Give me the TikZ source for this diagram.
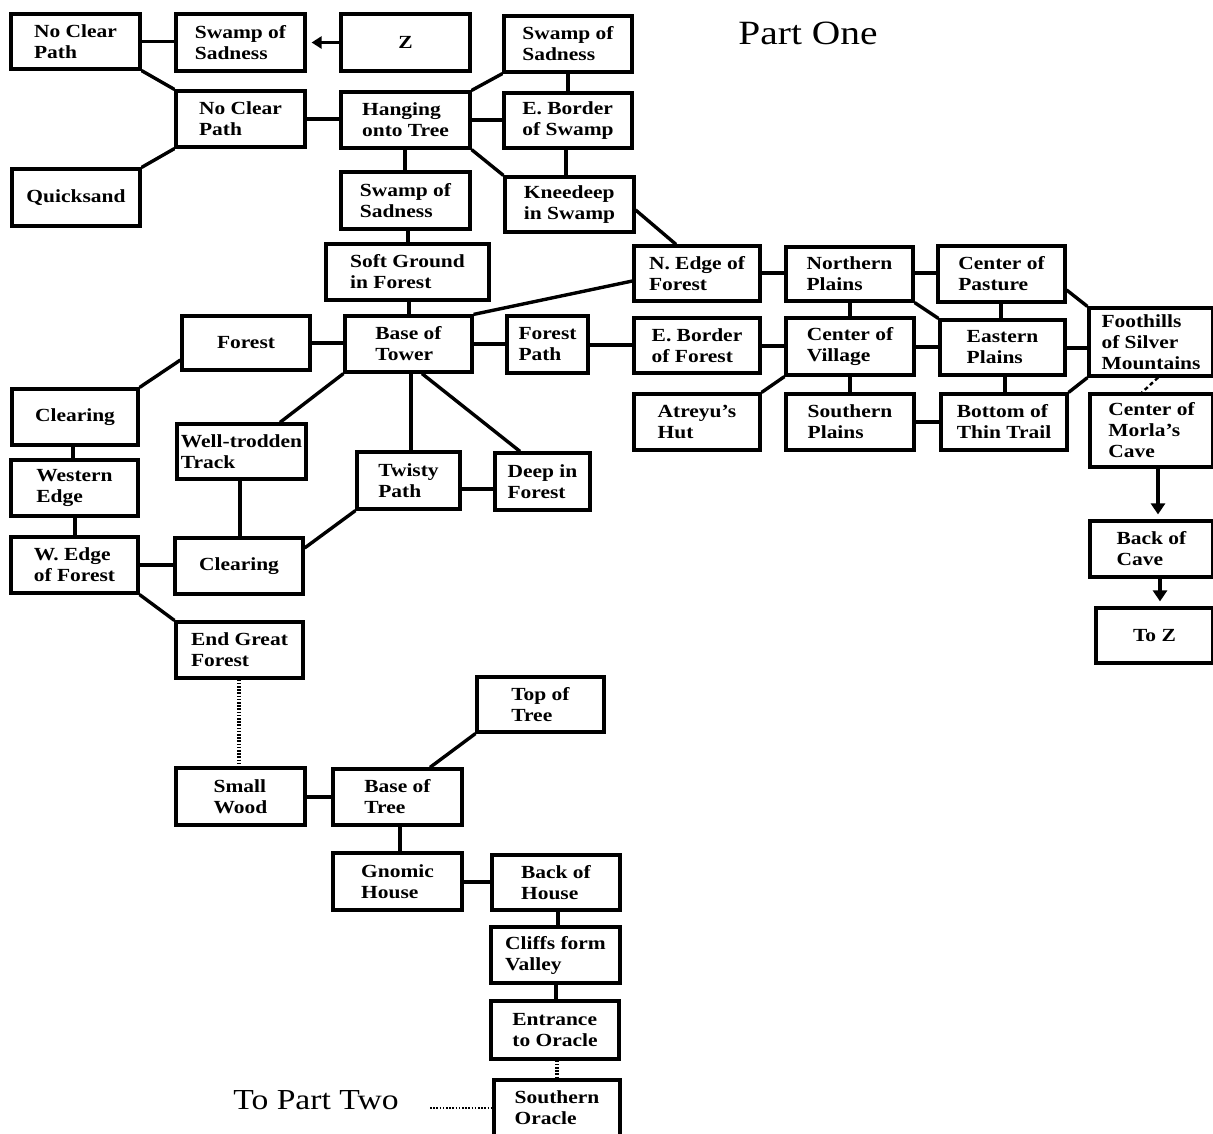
\documentclass[tikz,border=0pt]{standalone}
\usepackage{fontspec}
\setmainfont{Liberation Serif}[FakeStretch=1.16]
\usetikzlibrary{arrows.meta}
\tikzset{
  box/.style={draw, line width=3.2pt, rectangle, inner sep=0pt, align=left,
    font=\bfseries\fontsize{18.5}{21}\selectfont},
  conn/.style={line width=3.4pt},
  dotline/.style={line width=3.4pt, dash pattern=on 1.6pt off 1.6pt},
  dashline/.style={line width=2.4pt, dash pattern=on 4pt off 3pt},
  arr/.style={line width=3.4pt, -{Triangle[length=11pt,width=14pt]}, shorten >=5pt},
  title/.style={font=\fontsize{34}{40}\selectfont}
}
\newcommand\bx[6]{\node[box, minimum width={#4-#3}, minimum height={#6-#5}] (#1) at ({(#3+#4)/2},{(#5+#6)/2}) {#2};}
\begin{document}
\begin{tikzpicture}[x=1pt,y=-1pt]
\useasboundingbox (0,0) rectangle (1213,1133);
\clip (0,0) rectangle (1213,1133);
\fill[white] (0,0) rectangle (1213,1133);
% boxes
\bx{ncp1}{No Clear\\Path}{11}{140}{14}{69}
\bx{sws1}{Swamp of\\Sadness}{176}{305}{14}{71}
\bx{z}{Z}{341}{470}{14}{71}
\bx{sws2}{Swamp of\\Sadness}{504}{632}{16}{72}
\bx{ncp2}{No Clear\\Path}{176}{305}{91}{147}
\bx{hang}{Hanging\\onto Tree}{341}{470}{92}{148}
\bx{ebs}{E. Border\\of Swamp}{504}{632}{93}{148}
\bx{quick}{Quicksand}{12}{140}{169}{226}
\bx{sws3}{Swamp of\\Sadness}{341}{470}{172}{229}
\bx{knee}{Kneedeep\\in Swamp}{505}{634}{177}{232}
\bx{soft}{Soft Ground\\in Forest}{326}{489}{244}{300}
\bx{nef}{N. Edge of\\Forest}{634}{760}{246}{301}
\bx{np}{Northern\\Plains}{786}{913}{247}{301}
\bx{cp}{Center of\\Pasture}{938}{1065}{246}{302}
\bx{foot}{Foothills\\of Silver\\Mountains}{1089}{1213}{308}{376}
\bx{forest}{Forest}{182}{310}{316}{370}
\bx{bot}{Base of\\Tower}{345}{472}{316}{372}
\bx{fp}{Forest\\Path}{507}{588}{316}{373}
\bx{ebf}{E. Border\\of Forest}{634}{760}{318}{373}
\bx{cv}{Center of\\Village}{786}{914}{318}{375}
\bx{ep}{Eastern\\Plains}{940}{1065}{320}{375}
\bx{clr1}{Clearing}{12}{138}{389}{445}
\bx{ah}{Atreyu's\\Hut}{634}{760}{394}{450}
\bx{sp}{Southern\\Plains}{786}{914}{394}{450}
\bx{btt}{Bottom of\\Thin Trail}{941}{1067}{394}{450}
\bx{morla}{Center of\\Morla's\\Cave}{1090}{1213}{394}{467}
\bx{wt}{Well-trodden\\Track}{177}{306}{424}{479}
\bx{tp}{Twisty\\Path}{357}{460}{452}{509}
\bx{dif}{Deep in\\Forest}{495}{590}{453}{510}
\bx{we}{Western\\Edge}{11}{138}{460}{516}
\bx{wef}{W. Edge\\of Forest}{11}{138}{537}{593}
\bx{clr2}{Clearing}{175}{303}{538}{594}
\bx{egf}{End Great\\Forest}{176}{303}{622}{678}
\bx{tot}{Top of\\Tree}{477}{604}{677}{732}
\bx{sw}{Small\\Wood}{176}{305}{768}{825}
\bx{botr}{Base of\\Tree}{333}{462}{769}{825}
\bx{gh}{Gnomic\\House}{333}{462}{853}{910}
\bx{boh}{Back of\\House}{492}{620}{855}{910}
\bx{cfv}{Cliffs form\\Valley}{491}{620}{927}{983}
\bx{eto}{Entrance\\to Oracle}{491}{619}{1001}{1059}
\bx{so}{Southern\\Oracle}{494}{620}{1080}{1136}
\bx{boc}{Back of\\Cave}{1090}{1213}{521}{577}
\bx{toz}{To Z}{1096}{1213}{608}{663}
% titles
\node[title] (p1) at (808,33) {Part One};
\node[font=\fontsize{29}{34}\selectfont] (p2) at (316,1100) {To Part Two};
\coordinate (p2end) at (430,1108);
% connectors
\draw[conn] (ncp1.east) -- (sws1.west |- ncp1.east);
\draw[arr, -{Triangle[length=10pt,width=12pt]}] (z.west) -- (sws1.east |- z.west);
\draw[conn] (ncp1.south east) -- (ncp2.north west);
\draw[conn] (quick.north east) -- (ncp2.south west);
\draw[conn] (ncp2.east) -- (hang.west |- ncp2.east);
\draw[conn] (hang.north east) -- (sws2.south west);
\draw[conn] (568,0 |- sws2.south) -- (568,0 |- ebs.north);
\draw[conn] (hang.east) -- (ebs.west |- hang.east);
\draw[conn] (hang.south east) -- (knee.north west);
\draw[conn] (566,0 |- ebs.south) -- (566,0 |- knee.north);
\draw[conn] (405,0 |- hang.south) -- (405,0 |- sws3.north);
\draw[conn] (408,0 |- sws3.south) -- (408,0 |- soft.north);
\draw[conn] (knee.east |- 0,210) -- (676,0 |- nef.north);
\draw[conn] (409,0 |- soft.south) -- (409,0 |- bot.north);
\draw[conn] (bot.north east) -- (nef.west |- 0,281);
\draw[conn] (forest.east) -- (bot.west |- forest.east);
\draw[conn] (bot.east) -- (fp.west |- bot.east);
\draw[conn] (fp.east |- 0,345) -- (ebf.west |- 0,345);
\draw[conn] (bot.south west) -- (280,0 |- wt.north);
\draw[conn] (411,0 |- bot.south) -- (411,0 |- tp.north);
\draw[conn] (422,0 |- bot.south) -- (520,0 |- dif.north);
\draw[conn] (forest.west |- 0,360) -- (clr1.north east);
\draw[conn] (73,0 |- clr1.south) -- (73,0 |- we.north);
\draw[conn] (75,0 |- we.south) -- (75,0 |- wef.north);
\draw[conn] (wef.east) -- (clr2.west |- wef.east);
\draw[conn] (240,0 |- wt.south) -- (240,0 |- clr2.north);
\draw[conn] (clr2.east |- 0,548) -- (tp.south west);
\draw[conn] (tp.east |- 0,489) -- (dif.west |- 0,489);
\draw[conn] (wef.south east) -- (egf.north west);
\draw[dotline] (239,0 |- egf.south) -- (239,0 |- sw.north);
\draw[conn] (sw.east |- 0,797) -- (botr.west |- 0,797);
\draw[conn] (430,0 |- botr.north) -- (tot.south west);
\draw[conn] (400,0 |- botr.south) -- (400,0 |- gh.north);
\draw[conn] (gh.east |- 0,882) -- (boh.west |- 0,882);
\draw[conn] (558,0 |- boh.south) -- (558,0 |- cfv.north);
\draw[conn] (556,0 |- cfv.south) -- (556,0 |- eto.north);
\draw[dotline] (557,0 |- eto.south) -- (557,0 |- so.north);
\draw[dotline, line width=2.8pt] (p2end) -- (so.west |- p2end);
% right part
\draw[conn] (nef.east |- 0,273) -- (np.west |- 0,273);
\draw[conn] (np.east |- 0,273) -- (cp.west |- 0,273);
\draw[conn] (850,0 |- np.south) -- (850,0 |- cv.north);
\draw[conn] (np.south east) -- (ep.north west);
\draw[conn] (1001,0 |- cp.south) -- (1001,0 |- ep.north);
\draw[conn] (cp.east |- 0,290) -- (foot.north west);
\draw[conn] (ebf.east |- 0,346) -- (cv.west |- 0,346);
\draw[conn] (cv.east |- 0,347) -- (ep.west |- 0,347);
\draw[conn] (ep.east |- 0,348) -- (foot.west |- 0,348);
\draw[conn] (cv.south west) -- (ah.north east);
\draw[conn] (850,0 |- cv.south) -- (850,0 |- sp.north);
\draw[conn] (sp.east |- 0,422) -- (btt.west |- 0,422);
\draw[conn] (1005,0 |- ep.south) -- (1005,0 |- btt.north);
\draw[conn] (btt.north east) -- (foot.south west);
\draw[dashline] (1158,0 |- foot.south) -- (1142,0 |- morla.north);
\draw[arr] (1158,0 |- morla.south) -- (1158,0 |- boc.north);
\draw[arr] (1160,0 |- boc.south) -- (1160,0 |- toz.north);
\end{tikzpicture}
\end{document}
